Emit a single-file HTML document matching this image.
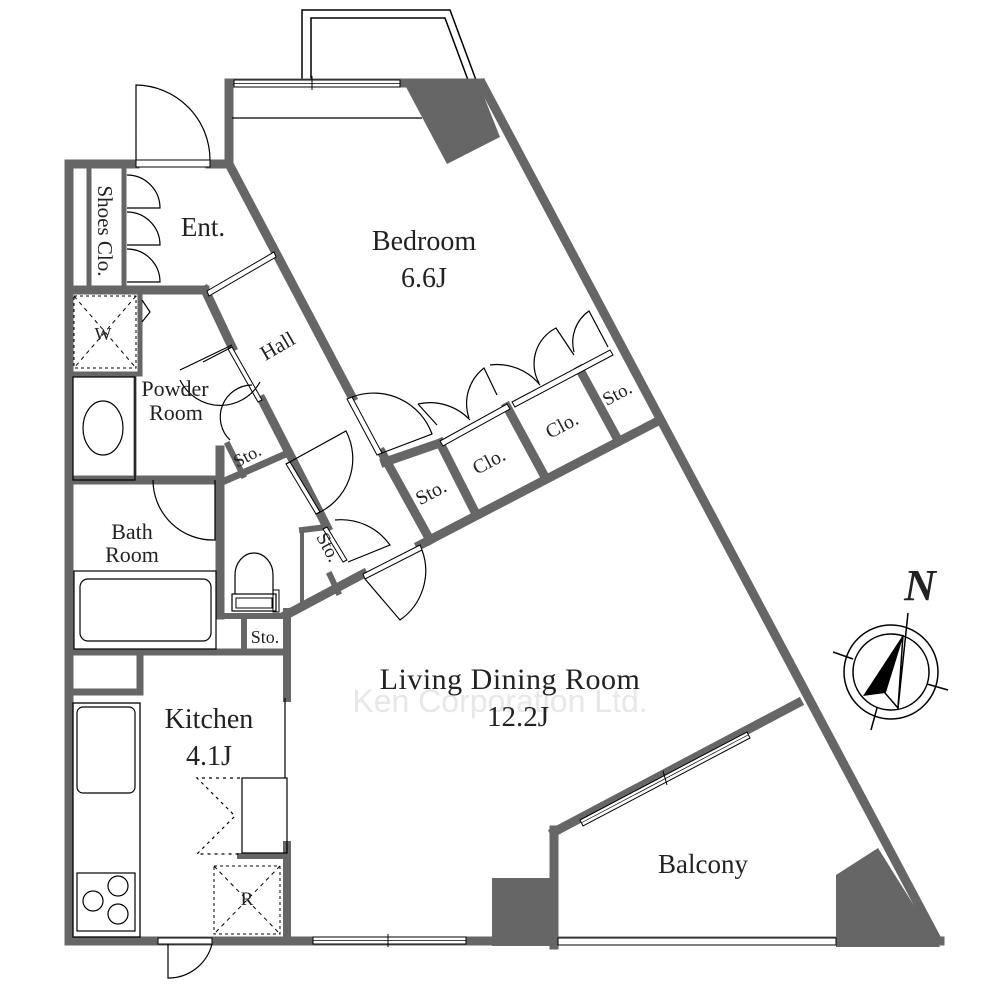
<!DOCTYPE html>
<html><head><meta charset="utf-8"><style>
html,body{margin:0;padding:0;background:#fff;}
svg{display:block;}
text{font-family:"Liberation Serif",serif;fill:#222;}
</style></head><body>
<svg width="1000" height="1000" viewBox="0 0 1000 1000" xmlns="http://www.w3.org/2000/svg">
<rect width="1000" height="1000" fill="#fff"/>
<polyline points="302,80 302,10 450,10 476,80" fill="none" stroke="#000" stroke-width="1.5"/>
<polyline points="311,80 311,18 445,18 468,80" fill="none" stroke="#000" stroke-width="1.5"/>
<g stroke="#666" stroke-width="9" fill="none" stroke-linecap="square">
 <line x1="69" y1="164" x2="69" y2="941"/>
 <line x1="69" y1="941" x2="940" y2="941"/>
 <line x1="69" y1="164" x2="135" y2="164"/>
 <line x1="210" y1="164" x2="229" y2="164"/>
 <line x1="229" y1="164" x2="229" y2="83"/>
 <line x1="229" y1="83" x2="480" y2="83"/>
 <line x1="480" y1="80" x2="940" y2="945" stroke-linecap="butt"/>
 <line x1="229" y1="164" x2="352" y2="397"/>
 <line x1="382" y1="453" x2="430" y2="540"/>
 <line x1="286" y1="615" x2="363" y2="574"/>
 <line x1="420" y1="545" x2="660" y2="420"/>
 <line x1="385" y1="462" x2="440" y2="443"/>
 <line x1="440" y1="443" x2="475" y2="512"/>
 <line x1="507" y1="407" x2="545" y2="477"/>
 <line x1="580" y1="370" x2="617" y2="438"/>
 <line x1="69" y1="290" x2="205" y2="290"/>
 <line x1="89" y1="168" x2="89" y2="288" stroke-width="5"/>
 <line x1="124" y1="168" x2="124" y2="288" stroke-width="5"/>
 <line x1="140" y1="293" x2="140" y2="372" stroke-width="5"/>
 <line x1="69" y1="374" x2="140" y2="374" stroke-width="5"/>
 <line x1="135" y1="377" x2="135" y2="480" stroke-width="3"/>
 <line x1="205" y1="290" x2="232" y2="347"/>
 <line x1="262" y1="400" x2="327" y2="527"/>
 <line x1="220" y1="483" x2="288" y2="453" stroke-width="7"/>
 <line x1="220" y1="450" x2="220" y2="615"/>
 <line x1="69" y1="480" x2="220" y2="480"/>
 <line x1="228" y1="445" x2="243" y2="475" stroke-width="6"/>
 <line x1="302" y1="530" x2="327" y2="527" stroke-width="6"/>
 <line x1="302" y1="530" x2="302" y2="605" stroke-width="4"/>
 <line x1="330" y1="575" x2="338" y2="592" stroke-width="6"/>
 <line x1="222" y1="616" x2="287" y2="616" stroke-width="6"/>
 <line x1="244" y1="616" x2="244" y2="651" stroke-width="6"/>
 <line x1="287" y1="612" x2="287" y2="698" stroke-width="8"/>
 <line x1="69" y1="652" x2="287" y2="652" stroke-width="7"/>
 <line x1="69" y1="692" x2="140" y2="692" stroke-width="7"/>
 <line x1="140" y1="652" x2="140" y2="692" stroke-width="7"/>
 <line x1="240" y1="856" x2="287" y2="856" stroke-width="6"/>
 <line x1="287" y1="845" x2="287" y2="941" stroke-width="8"/>
 <line x1="798" y1="703" x2="554" y2="832"/>
 <line x1="554" y1="830" x2="554" y2="945"/>
</g>
<polygon points="406,87 477,79 500,137 447,164" fill="#666"/>
<polygon points="492,878 552,878 552,946 492,946" fill="#666"/>
<polygon points="836,875 878,848 940,947 836,947" fill="#666"/>
<g fill="#fff" stroke="#000" stroke-width="1">
 <rect x="234" y="80" width="166" height="7"/>
 <rect x="313" y="937" width="153" height="7"/>
 <rect x="558" y="938" width="278" height="7"/>
 <rect x="158" y="938" width="54" height="6"/>
 <rect x="136" y="160" width="74" height="7"/>
</g>
<line x1="234" y1="83.5" x2="400" y2="83.5" stroke="#000" stroke-width="0.7"/>
<line x1="313" y1="940.5" x2="466" y2="940.5" stroke="#000" stroke-width="0.7"/>
<line x1="388" y1="934" x2="388" y2="947" stroke="#000" stroke-width="1"/>
<line x1="312" y1="76" x2="312" y2="90" stroke="#000" stroke-width="1"/>
<polygon points="580,820 747,732 750,738 583,826" fill="#fff" stroke="#000" stroke-width="1"/>
<line x1="581" y1="823" x2="748" y2="735" stroke="#000" stroke-width="0.7"/>
<line x1="663" y1="771" x2="667" y2="785" stroke="#000" stroke-width="1"/>
<line x1="232" y1="118" x2="422" y2="118" stroke="#000" stroke-width="1.2"/>
<polygon points="207,291 274,252 276,257 209,296" fill="#fff" stroke="#000" stroke-width="1"/>
<polygon points="440,441 507,404 510,409 443,446" fill="#fff" stroke="#000" stroke-width="1"/>
<polygon points="512,402 610,350 613,355 515,407" fill="#fff" stroke="#000" stroke-width="1"/>
<polygon points="232,347 262,400 258,402 228,349" fill="#fff" stroke="#000" stroke-width="1"/>
<polygon points="352,397 382,453 377,455 347,399" fill="#fff" stroke="#000" stroke-width="1"/>
<polygon points="290,462 320,512 316,514 286,464" fill="#fff" stroke="#000" stroke-width="1"/>
<polygon points="363,574 420,545 422,550 365,579" fill="#fff" stroke="#000" stroke-width="1"/>
<polygon points="327,527 347,560 343,562 323,529" fill="#fff" stroke="#000" stroke-width="1"/>
<g fill="none" stroke="#000" stroke-width="1.2">
 <path d="M136,160 L136,85 A75,75 0 0 1 210,160"/>
 <path d="M127,175 A33,33 0 0 1 160,208 L127,208"/>
 <path d="M127,212 A33,33 0 0 1 160,245 L127,245"/>
 <path d="M127,249 A33,33 0 0 1 160,282 L127,282"/>
 <path d="M142,300 L150,312 L142,322"/>
 <path d="M352,397 A62,62 0 0 1 432,434 L382,453"/>
 <path d="M418,404 A55,55 0 0 1 470,420"/>
 <path d="M418,404 L437,425"/>
 <path d="M469,418 A45,45 0 0 1 484,368 L497,395"/>
 <path d="M490,365 A55,55 0 0 1 540,385"/>
 <path d="M539,383 A40,40 0 0 1 556,328 L574,355"/>
 <path d="M574,352 A38,38 0 0 1 589,311 L608,347"/>
 <path d="M286,464 L346,431 A60,60 0 0 1 316,514"/>
 <path d="M335,520 A60,60 0 0 1 390,545 L348,562"/>
 <path d="M365,579 L400,620 A60,60 0 0 0 422,550"/>
 <path d="M232,347 L203,362"/>
 <path d="M180,370 L232,345"/>
 <path d="M260,382 A45,45 0 0 1 180,380"/>
 <path d="M252,385 A32,32 0 0 0 230,440"/>
 <path d="M153,480 A60,60 0 0 0 215,540 L215,480"/>
 <path d="M168,944 L168,978 A45,45 0 0 0 212,944"/>
</g>
<rect x="74" y="296" width="62" height="72" fill="none" stroke="#000" stroke-width="1" stroke-dasharray="3,3"/>
<line x1="74" y1="296" x2="136" y2="368" stroke="#000" stroke-width="1" stroke-dasharray="4,4"/>
<line x1="136" y1="296" x2="74" y2="368" stroke="#000" stroke-width="1" stroke-dasharray="4,4"/>
<rect x="73" y="377" width="62" height="103" fill="none" stroke="#000" stroke-width="1.2"/>
<ellipse cx="103" cy="428" rx="20" ry="27" fill="none" stroke="#000" stroke-width="1.2"/>
<rect x="74" y="571" width="142" height="78" fill="none" stroke="#000" stroke-width="1.2"/>
<rect x="80" y="579" width="131" height="62" rx="8" fill="none" stroke="#000" stroke-width="1.2"/>
<path d="M235,605 L235,575 A19,22 0 0 1 273,575 L273,605 Z" fill="none" stroke="#000" stroke-width="1.2"/>
<rect x="232" y="594" width="44" height="17" fill="#fff" stroke="#000" stroke-width="1.2"/>
<rect x="236" y="598" width="36" height="10" fill="none" stroke="#000" stroke-width="1"/>
<rect x="273" y="590" width="6" height="22" fill="none" stroke="#000" stroke-width="1"/>
<rect x="73" y="703" width="67" height="234" fill="none" stroke="#000" stroke-width="1.3"/>
<rect x="77" y="707" width="58" height="86" rx="6" fill="none" stroke="#000" stroke-width="1.2"/>
<rect x="77" y="873" width="58" height="58" fill="none" stroke="#000" stroke-width="1.2"/>
<circle cx="93" cy="901" r="10" fill="none" stroke="#000" stroke-width="1.2"/>
<circle cx="118" cy="886" r="10" fill="none" stroke="#000" stroke-width="1.2"/>
<circle cx="118" cy="914" r="10" fill="none" stroke="#000" stroke-width="1.2"/>
<line x1="285" y1="698" x2="285" y2="778" stroke="#000" stroke-width="1.2"/>
<rect x="242" y="778" width="45" height="75" fill="none" stroke="#000" stroke-width="1.2"/>
<path d="M240,778 L197,778 L235,816 L197,854 L240,854" fill="none" stroke="#000" stroke-width="1.2" stroke-dasharray="3,4"/>
<rect x="214" y="866" width="66" height="68" fill="none" stroke="#000" stroke-width="1" stroke-dasharray="3,3"/>
<line x1="214" y1="866" x2="280" y2="934" stroke="#000" stroke-width="1" stroke-dasharray="4,4"/>
<line x1="280" y1="866" x2="214" y2="934" stroke="#000" stroke-width="1" stroke-dasharray="4,4"/>
<g fill="none" stroke="#000" stroke-width="1.5">
 <circle cx="891" cy="672" r="47"/>
 <circle cx="891" cy="672" r="38"/>
 <line x1="908" y1="613" x2="898" y2="708"/>
 <line x1="833" y1="652" x2="853" y2="659"/>
 <line x1="927" y1="684" x2="948" y2="690"/>
 <line x1="877" y1="708" x2="871" y2="730"/>
 <polygon points="885,693 898,708 903,635"/>
</g>
<polygon points="903,635 863,696 885,693" fill="#000"/>
<text x="920" y="600" font-size="44" font-style="italic" font-weight="bold" text-anchor="middle">N</text>
<text x="203" y="236" font-size="27" text-anchor="middle">Ent.</text>
<text x="424" y="250" font-size="28" text-anchor="middle">Bedroom</text>
<text x="424" y="287" font-size="28" text-anchor="middle">6.6J</text>
<text font-size="21" text-anchor="middle" transform="translate(98,231) rotate(90)">Shoes Clo.</text>
<text x="103" y="340" font-size="18" text-anchor="middle">W</text>
<text font-size="21" text-anchor="middle" transform="translate(281,352) rotate(-30)">Hall</text>
<text x="175" y="396" font-size="22" text-anchor="middle">Powder</text>
<text x="176" y="420" font-size="22" text-anchor="middle">Room</text>
<text font-size="18" text-anchor="middle" transform="translate(250,461) rotate(-28)">Sto.</text>
<text font-size="20" text-anchor="middle" transform="translate(434,498) rotate(-28)">Sto.</text>
<text font-size="20" text-anchor="middle" transform="translate(492,467) rotate(-28)">Clo.</text>
<text font-size="20" text-anchor="middle" transform="translate(565,431) rotate(-28)">Clo.</text>
<text font-size="19" text-anchor="middle" transform="translate(620,399) rotate(-28)">Sto.</text>
<text font-size="19" text-anchor="middle" transform="translate(323,550) rotate(62)">Sto.</text>
<text x="132" y="539" font-size="22" text-anchor="middle">Bath</text>
<text x="132" y="562" font-size="22" text-anchor="middle">Room</text>
<text x="265" y="643" font-size="18" text-anchor="middle">Sto.</text>
<text x="209" y="728" font-size="28" text-anchor="middle">Kitchen</text>
<text x="209" y="765" font-size="28" text-anchor="middle">4.1J</text>
<text x="247" y="905" font-size="19" text-anchor="middle">R</text>
<text x="500" y="712" font-size="32" text-anchor="middle" style="fill:#e8e8e8;font-family:'Liberation Sans',sans-serif">Ken Corporation Ltd.</text>
<text x="510" y="689" font-size="30" text-anchor="middle" letter-spacing="0.5">Living Dining Room</text>
<text x="518" y="726" font-size="29" text-anchor="middle">12.2J</text>
<text x="703" y="873" font-size="27" text-anchor="middle">Balcony</text>
</svg>
</body></html>
